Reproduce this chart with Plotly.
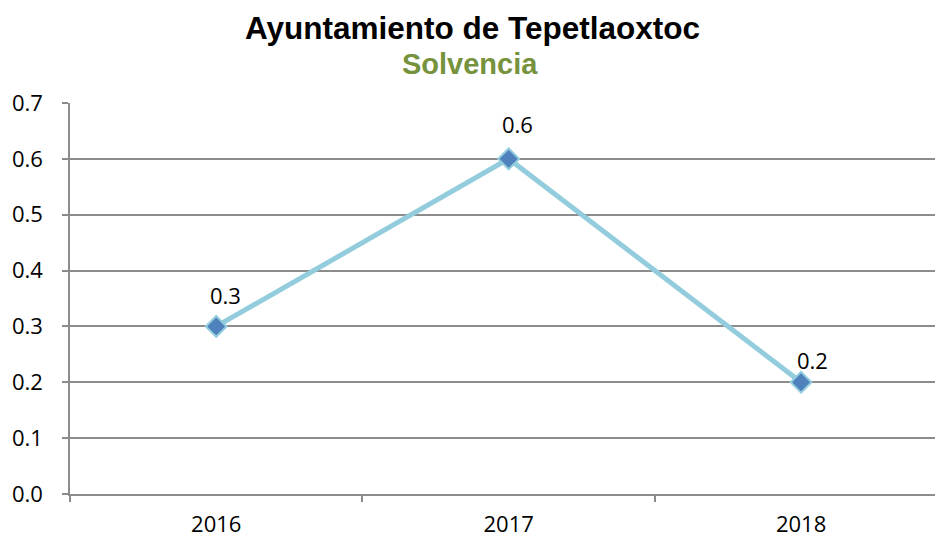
import plotly.graph_objects as go

# data
years = ["2016", "2017", "2018"]
solvencia = [0.3, 0.6, 0.2]
y_ticks = [0.0, 0.1, 0.2, 0.3, 0.4, 0.5, 0.6, 0.7]

title_text = "Ayuntamiento de Tepetlaoxtoc"
subtitle_text = "Solvencia"

# label nudges (px) as placed in the original chart
label_dy = [31, 35, 22]
label_dx = [9, 9, 11]

LINE_COLOR = "#93CDDD"
MARKER_COLOR = "#4F81BD"
GRID_COLOR = "#8C8C8C"
FONT = "Liberation Sans, Arial, sans-serif"
LABEL_FONT = "Open Sans, Liberation Sans, sans-serif"

fig = go.Figure()
fig.add_trace(go.Scatter(
    x=years,
    y=solvencia,
    mode="lines+markers",
    line=dict(color=LINE_COLOR, width=5),
    marker=dict(symbol="diamond", size=16, color=MARKER_COLOR,
                line=dict(color=LINE_COLOR, width=2)),
    showlegend=False,
    hoverinfo="x+y",
))

# value labels above each point (category index used as x)
annotations = []
for i, v in enumerate(solvencia):
    annotations.append(dict(
        x=i, y=v, xref="x", yref="y", text=f"{v:.1f}",
        showarrow=False, yshift=label_dy[i], xshift=label_dx[i],
        font=dict(family=LABEL_FONT, size=22, color="#000000"),
    ))

annotations.append(dict(
    text=f"<b>{title_text}</b>", xref="paper", yref="paper",
    x=0.465, y=1.192, xanchor="center", yanchor="middle", showarrow=False,
    font=dict(family=FONT, size=31.5, color="#000000"),
))
annotations.append(dict(
    text=f"<b>{subtitle_text}</b>", xref="paper", yref="paper",
    x=0.462, y=1.101, xanchor="center", yanchor="middle", showarrow=False,
    font=dict(family=FONT, size=29, color="#76923C"),
))

fig.update_layout(
    width=935,
    height=539,
    margin=dict(l=70, r=0, t=103, b=45),
    paper_bgcolor="white",
    plot_bgcolor="white",
    annotations=annotations,
    xaxis=dict(
        type="category",
        range=[-0.5, 2.458],
        tickson="boundaries",
        ticks="outside",
        ticklen=6,
        tickcolor=GRID_COLOR,
        tickwidth=1.5,
        ticklabelstandoff=10,
        showgrid=False,
        showline=True,
        linecolor=GRID_COLOR,
        linewidth=1.5,
        tickfont=dict(family=LABEL_FONT, size=22, color="#000000"),
        fixedrange=True,
    ),
    yaxis=dict(
        range=[0, 0.7],
        tickvals=y_ticks,
        ticktext=[f"{t:.1f}" for t in y_ticks],
        ticks="outside",
        ticklen=6,
        tickcolor=GRID_COLOR,
        tickwidth=1.5,
        ticklabelstandoff=15,
        showgrid=True,
        gridcolor=GRID_COLOR,
        gridwidth=1.5,
        zeroline=False,
        showline=True,
        linecolor=GRID_COLOR,
        linewidth=1.5,
        tickfont=dict(family=LABEL_FONT, size=22, color="#000000"),
        fixedrange=True,
    ),
)

# drop the default body margin so the figure sits flush with the window
fig.write_html(
    "out.html",
    config={"displayModeBar": False},
    post_script="document.body.style.margin='0';document.body.style.overflow='hidden';",
)
